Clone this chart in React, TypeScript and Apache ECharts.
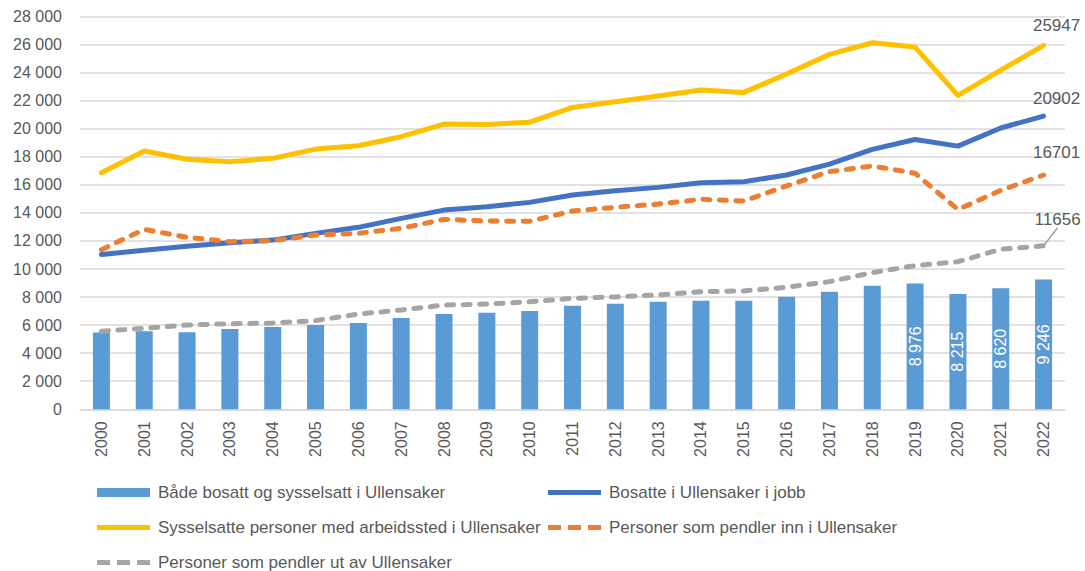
import React, { useEffect, useRef } from "react";
import * as echarts from "echarts";

const years = ["2000","2001","2002","2003","2004","2005","2006","2007","2008","2009","2010","2011","2012","2013","2014","2015","2016","2017","2018","2019","2020","2021","2022"];

const nameBoth = "Både bosatt og sysselsatt i Ullensaker";
const nameResidents = "Bosatte i Ullensaker i jobb";
const nameWorkplace = "Sysselsatte personer med arbeidssted i Ullensaker";
const nameIn = "Personer som pendler inn i Ullensaker";
const nameOut = "Personer som pendler ut av Ullensaker";

const bothValues = [5480, 5570, 5500, 5720, 5860, 6010, 6150, 6500, 6790, 6890, 7000, 7380, 7530, 7670, 7740, 7730, 8030, 8380, 8810, 8976, 8215, 8620, 9246];
const residentsValues = [11040, 11330, 11620, 11880, 12060, 12540, 12970, 13610, 14200, 14440, 14750, 15280, 15580, 15820, 16150, 16220, 16700, 17480, 18530, 19230, 18760, 20050, 20902];
const workplaceValues = [16860, 18410, 17820, 17650, 17890, 18550, 18790, 19430, 20330, 20310, 20470, 21520, 21920, 22330, 22760, 22590, 23900, 25300, 26130, 25820, 22380, 24180, 25947];
const inValues = [11380, 12830, 12260, 11950, 12020, 12420, 12545, 12900, 13540, 13420, 13400, 14135, 14400, 14630, 14970, 14850, 15920, 16940, 17340, 16830, 14240, 15610, 16701];
const outValues = [5570, 5770, 6010, 6100, 6150, 6320, 6790, 7080, 7430, 7500, 7670, 7910, 8010, 8150, 8380, 8440, 8700, 9100, 9740, 10240, 10520, 11410, 11656];

const barLabelYears = ["2019", "2020", "2021", "2022"];
const yTicks = { min: 0, max: 28000, interval: 2000 };

const FONT = "'Liberation Sans', Arial, sans-serif";
const TEXT = "#595959";
const LINE_W = 5;

const ICON_SOLID = "path://M0,0h53v5h-53z";
const ICON_DASH = "path://M0,0h13v5h-13z M20,0h13v5h-13z M40,0h13v5h-13z";

const fmtSpace = (v: number) => String(v).replace(/\B(?=(\d{3})+(?!\d))/g, " ");

export default function App() {
  const ref = useRef<HTMLDivElement>(null);
  useEffect(() => {
    document.body.style.margin = "0";
    if (!ref.current) return;
    const chart = echarts.init(ref.current, undefined, { renderer: "svg" });

    const lastLabel = (offset: number[]) => ({
      show: true,
      position: "top",
      offset,
      color: TEXT,
      fontSize: 17,
      fontFamily: FONT,
    });

    const withEndLabel = (arr: number[], offset: number[]) =>
      arr.map((v, i) => (i === arr.length - 1 ? { value: v, label: lastLabel(offset) } : v));

    const barData = bothValues.map((v, i) =>
      barLabelYears.includes(years[i])
        ? {
            value: v,
            label: {
              show: true,
              position: "inside",
              rotate: 90,
              color: "#ffffff",
              fontSize: 16,
              fontFamily: FONT,
              formatter: (p: any) => fmtSpace(p.value),
            },
          }
        : v
    );

    const dashed = (color: string) => ({
      color,
      width: LINE_W,
      type: [7, 9.5],
      cap: "round",
    });

    const legendItem = (name: string, icon: string, left: number, centerY: number, h: number) => ({
      orient: "horizontal",
      left,
      top: centerY - 8,
      padding: 0,
      itemWidth: 53,
      itemHeight: h,
      data: [{ name, icon }],
      textStyle: { fontSize: 17, color: TEXT, fontFamily: FONT, lineHeight: 16, padding: [0, 0, 0, 3] },
    });

    const lineCommon = {
      type: "line",
      symbol: "circle",
      symbolSize: 0.1,
      showSymbol: true,
    };

    chart.setOption({
      animation: false,
      backgroundColor: "#ffffff",
      textStyle: { fontFamily: FONT },
      grid: { left: 80, right: 20, top: 16.5, bottom: 161.7 },
      legend: [
        legendItem(nameBoth, "rect", 97, 492, 9),
        legendItem(nameResidents, ICON_SOLID, 548, 492, 5),
        legendItem(nameWorkplace, ICON_SOLID, 97, 527, 5),
        legendItem(nameIn, ICON_DASH, 548, 527, 5),
        legendItem(nameOut, ICON_DASH, 97, 562, 5),
      ],
      xAxis: {
        type: "category",
        data: years,
        axisLine: { lineStyle: { color: "#d9d9d9", width: 1.5 } },
        axisTick: { show: false },
        axisLabel: { rotate: 90, color: TEXT, fontSize: 16, fontFamily: FONT, margin: 12 },
      },
      yAxis: {
        type: "value",
        min: yTicks.min,
        max: yTicks.max,
        interval: yTicks.interval,
        axisLine: { show: false },
        axisTick: { show: false },
        splitLine: { lineStyle: { color: "#d9d9d9", width: 1.5 } },
        axisLabel: { color: TEXT, fontSize: 16, fontFamily: FONT, margin: 18, formatter: (v: number) => fmtSpace(v) },
      },
      series: [
        {
          name: nameBoth,
          type: "bar",
          data: barData,
          barWidth: 17,
          itemStyle: { color: "#5B9BD5" },
        },
        {
          ...lineCommon,
          name: nameResidents,
          data: withEndLabel(residentsValues, [13, -4]),
          lineStyle: { color: "#4472C4", width: LINE_W, cap: "round", join: "round" },
          itemStyle: { color: "#4472C4" },
        },
        {
          ...lineCommon,
          name: nameWorkplace,
          data: withEndLabel(workplaceValues, [13, -6]),
          lineStyle: { color: "#FFC000", width: LINE_W, cap: "round", join: "round" },
          itemStyle: { color: "#FFC000" },
        },
        {
          ...lineCommon,
          name: nameIn,
          data: withEndLabel(inValues, [13, -9]),
          lineStyle: dashed("#ED7D31"),
          itemStyle: { color: "#ED7D31" },
        },
        {
          ...lineCommon,
          name: nameOut,
          data: withEndLabel(outValues, [0, 0]),
          lineStyle: dashed("#A5A5A5"),
          itemStyle: { color: "#A5A5A5" },
          labelLayout: { dx: 14, dy: -13 },
          labelLine: { show: true, lineStyle: { color: "#A5A5A5", width: 1.5 } },
        },
      ],
    });
    return () => chart.dispose();
  }, []);
  return <div ref={ref} style={{ width: 1085, height: 571 }} />;
}
